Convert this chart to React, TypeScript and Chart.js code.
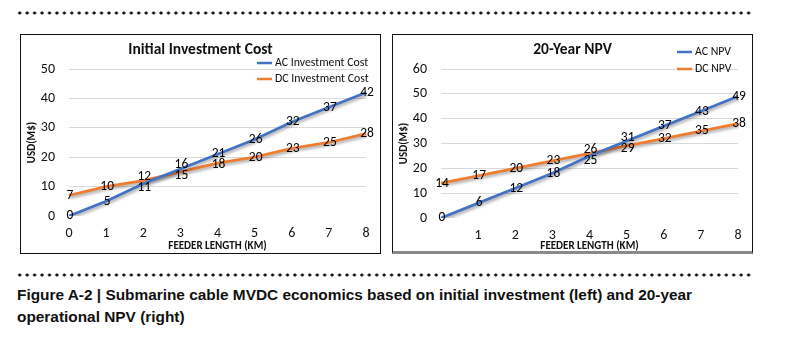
import React, { useEffect, useRef } from 'react';
import { Chart, registerables } from 'chart.js';

Chart.register(...registerables);

// ---------- data ----------
const investLengths = ['0', '1', '2', '3', '4', '5', '6', '7', '8'];
const acInvestment = [0, 5, 11, 16, 21, 26, 32, 37, 42];
const dcInvestment = [7, 10, 12, 15, 18, 20, 23, 25, 28];

const npvLengths = ['', '1', '2', '3', '4', '5', '6', '7', '8'];
const acNpv = [0, 6, 12, 18, 25, 31, 37, 43, 49];
const dcNpv = [14, 17, 20, 23, 26, 29, 32, 35, 38];

const investYTicks = { min: 0, max: 50, step: 10 };
const npvYTicks = { min: 0, max: 60, step: 10 };

const captionLines = [
  'Figure A-2 | Submarine cable MVDC economics based on initial investment (left) and 20-year',
  'operational NPV (right)',
];

// ---------- styles ----------
const FONT = "Carlito, Calibri, Lato, 'Open Sans', sans-serif";
const BLUE = '#4472C4';
const ORANGE = '#ED7D31';
const TEXT = '#111111';
const MIN_LABEL_GAP = 11;

const valueLabelPlugin = {
  id: 'valueLabels',
  afterDatasetsDraw(chart: any) {
    const { ctx } = chart;
    const metaA = chart.getDatasetMeta(0);
    const metaB = chart.getDatasetMeta(1);
    const dsA = chart.data.datasets[0];
    const dsB = chart.data.datasets[1];
    ctx.save();
    ctx.font = `13.5px ${FONT}`;
    ctx.fillStyle = '#000';
    ctx.textAlign = 'center';
    ctx.textBaseline = 'middle';
    metaA.data.forEach((pa: any, j: number) => {
      const pb = metaB.data[j];
      let ya = pa.y;
      let yb = pb.y;
      // keep the two labels of the same category from overlapping
      if (Math.abs(ya - yb) < MIN_LABEL_GAP) {
        const mid = (ya + yb) / 2;
        const aUpper = dsA.data[j] >= dsB.data[j];
        ya = mid + (aUpper ? -MIN_LABEL_GAP / 2 : MIN_LABEL_GAP / 2);
        yb = mid + (aUpper ? MIN_LABEL_GAP / 2 : -MIN_LABEL_GAP / 2);
      }
      ctx.fillText(String(dsA.data[j]), pa.x + 1, ya);
      ctx.fillText(String(dsB.data[j]), pb.x + 1, yb);
    });
    ctx.restore();
  },
};

const shadowPlugin = {
  id: 'lineShadow',
  beforeDatasetDraw(chart: any) {
    const { ctx } = chart;
    ctx.save();
    ctx.shadowColor = 'rgba(0,0,0,0.35)';
    ctx.shadowBlur = 3;
    ctx.shadowOffsetX = 1;
    ctx.shadowOffsetY = 2;
  },
  afterDatasetDraw(chart: any) {
    chart.ctx.restore();
  },
};

const headerPlugin = {
  id: 'header',
  afterDraw(chart: any, _args: any, opts: any) {
    const { ctx } = chart;
    ctx.save();
    ctx.font = `bold 15.5px ${FONT}`;
    ctx.fillStyle = TEXT;
    ctx.textAlign = 'center';
    ctx.textBaseline = 'middle';
    ctx.fillText(opts.text, chart.width / 2, opts.titleY);
    ctx.font = `11.8px ${FONT}`;
    ctx.textAlign = 'left';
    chart.data.datasets.forEach((ds: any, i: number) => {
      const y = opts.legendY + i * opts.legendGap;
      ctx.strokeStyle = ds.borderColor;
      ctx.lineWidth = 2.5;
      ctx.beginPath();
      ctx.moveTo(opts.legendX, y);
      ctx.lineTo(opts.legendX + 15, y);
      ctx.stroke();
      ctx.fillStyle = TEXT;
      ctx.fillText(ds.label, opts.legendX + 18, y + 0.5);
    });
    ctx.restore();
  },
};

type PanelProps = {
  title: string;
  labels: string[];
  ac: number[];
  dc: number[];
  acLabel: string;
  dcLabel: string;
  yTicks: { min: number; max: number; step: number };
  width: number;
  height: number;
  xAxisHeight: number;
  xTitleLineHeight: number;
  legendX: number;
  legendY: number;
  legendGap: number;
};

function Panel(p: PanelProps) {
  const ref = useRef<HTMLCanvasElement>(null);
  useEffect(() => {
    if (!ref.current) return;
    const chart = new Chart(ref.current, {
      type: 'line',
      data: {
        labels: p.labels,
        datasets: [
          {
            label: p.acLabel,
            data: p.ac,
            borderColor: BLUE,
            backgroundColor: BLUE,
            borderWidth: 2.8,
            pointRadius: 0,
            tension: 0,
          },
          {
            label: p.dcLabel,
            data: p.dc,
            borderColor: ORANGE,
            backgroundColor: ORANGE,
            borderWidth: 2.8,
            pointRadius: 0,
            tension: 0,
          },
        ],
      },
      options: {
        animation: false,
        responsive: false,
        devicePixelRatio: 1,
        events: [],
        layout: { padding: { top: 34, right: 14, bottom: 0, left: 0 }, autoPadding: false },
        plugins: {
          legend: { display: false },
          title: { display: false },
          tooltip: { enabled: false },
          header: { text: p.title, titleY: 15, legendX: p.legendX, legendY: p.legendY, legendGap: p.legendGap },
        } as any,
        scales: {
          x: {
            type: 'category',
            grid: { display: false, drawTicks: false },
            border: { display: false },
            ticks: {
              autoSkip: false,
              maxRotation: 0,
              padding: 9,
              color: TEXT,
              font: { family: FONT, size: 14 },
            },
            title: {
              display: true,
              text: 'FEEDER LENGTH (KM)',
              color: TEXT,
              font: { family: FONT, size: 11, weight: 'bold', lineHeight: p.xTitleLineHeight },
              padding: { top: 0, bottom: 0 },
            },
            afterFit: (s: any) => {
              s.height = p.xAxisHeight;
            },
          },
          y: {
            min: p.yTicks.min,
            max: p.yTicks.max,
            grid: {
              drawTicks: false,
              color: (c: any) => (c.tick && c.tick.value === 0 ? 'rgba(0,0,0,0)' : '#d9d9d9'),
              lineWidth: 1,
            },
            border: { display: false },
            ticks: {
              stepSize: p.yTicks.step,
              padding: 14,
              color: TEXT,
              font: { family: FONT, size: 14 },
            },
            title: {
              display: true,
              text: 'USD(M$)',
              color: TEXT,
              font: { family: FONT, size: 11, weight: 'bold', lineHeight: 1.2 },
              padding: { top: 5, bottom: 0 },
            },
            afterFit: (s: any) => {
              s.width = 48;
            },
          },
        },
      } as any,
      plugins: [shadowPlugin, valueLabelPlugin, headerPlugin],
    });
    return () => chart.destroy();
  }, []);
  return <canvas ref={ref} width={p.width} height={p.height} style={{ display: 'block' }} />;
}

const dotted = (top: number) => ({
  position: 'absolute' as const,
  left: 16,
  top,
  width: 738,
  height: 4,
  backgroundImage: 'radial-gradient(circle at center, #111 1.3px, rgba(0,0,0,0) 1.8px)',
  backgroundSize: '7.45px 4px',
  backgroundRepeat: 'repeat-x',
});

export default function App() {
  return (
    <div style={{ position: 'absolute', left: 0, top: 0, width: 787, height: 339, background: '#fff', overflow: 'hidden' }}>
      <div style={dotted(11)} />
      <div
        style={{
          position: 'absolute',
          left: 20,
          top: 34,
          width: 361,
          height: 220,
          boxSizing: 'border-box',
          border: '1px solid #111',
        }}
      >
        <Panel
          title="Initial Investment Cost"
          labels={investLengths}
          ac={acInvestment}
          dc={dcInvestment}
          acLabel="AC Investment Cost"
          dcLabel="DC Investment Cost"
          yTicks={investYTicks}
          width={359}
          height={218}
          xAxisHeight={37}
          xTitleLineHeight={1.2}
          legendX={236}
          legendY={28}
          legendGap={16}
        />
      </div>
      <div
        style={{
          position: 'absolute',
          left: 392,
          top: 34,
          width: 361,
          height: 220,
          boxSizing: 'border-box',
          border: '1px solid #111',
          borderBottom: '3px solid #8a8a8a',
        }}
      >
        <Panel
          title="20-Year NPV"
          labels={npvLengths}
          ac={acNpv}
          dc={dcNpv}
          acLabel="AC NPV"
          dcLabel="DC NPV"
          yTicks={npvYTicks}
          width={359}
          height={216}
          xAxisHeight={33}
          xTitleLineHeight={0.8}
          legendX={284}
          legendY={17}
          legendGap={17}
        />
      </div>
      <div style={dotted(273)} />
      <div
        style={{
          position: 'absolute',
          left: 17,
          top: 284,
          fontFamily: "'Liberation Sans', Arial, sans-serif",
          fontWeight: 'bold',
          fontSize: 15.4,
          lineHeight: '22px',
          color: '#111',
          whiteSpace: 'nowrap',
        }}
      >
        {captionLines[0]}
        <br />
        {captionLines[1]}
      </div>
    </div>
  );
}
